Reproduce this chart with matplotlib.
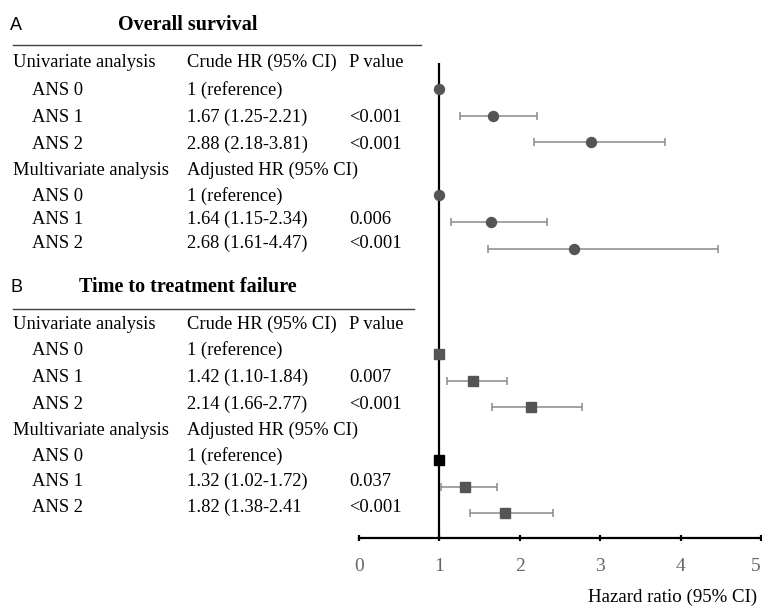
import matplotlib
matplotlib.use("Agg")
import matplotlib.pyplot as plt
import numpy as np

# ---------------- data ----------------
groups = ["ANS 0", "ANS 1", "ANS 2"]

os_uni_hr = [1.00, 1.67, 2.88]
os_uni_lo = [np.nan, 1.25, 2.18]
os_uni_hi = [np.nan, 2.21, 3.81]
os_uni_txt = ["1 (reference)", "1.67 (1.25-2.21)", "2.88 (2.18-3.81)"]
os_uni_p = ["", "<0.001", "<0.001"]

os_multi_hr = [1.00, 1.64, 2.68]
os_multi_lo = [np.nan, 1.15, 1.61]
os_multi_hi = [np.nan, 2.34, 4.47]
os_multi_txt = ["1 (reference)", "1.64 (1.15-2.34)", "2.68 (1.61-4.47)"]
os_multi_p = ["", "0.006", "<0.001"]

ttf_uni_hr = [1.00, 1.42, 2.14]
ttf_uni_lo = [np.nan, 1.10, 1.66]
ttf_uni_hi = [np.nan, 1.84, 2.77]
ttf_uni_txt = ["1 (reference)", "1.42 (1.10-1.84)", "2.14 (1.66-2.77)"]
ttf_uni_p = ["", "0.007", "<0.001"]

ttf_multi_hr = [1.00, 1.32, 1.82]
ttf_multi_lo = [np.nan, 1.02, 1.38]
ttf_multi_hi = [np.nan, 1.72, 2.41]
ttf_multi_txt = ["1 (reference)", "1.32 (1.02-1.72)", "1.82 (1.38-2.41"]
ttf_multi_p = ["", "0.037", "<0.001"]

x_ticks = [0, 1, 2, 3, 4, 5]

# ---------------- layout (pixels) ----------------
W, H = 762, 607
SERIF = "Liberation Serif"
SANS = "Liberation Sans"
FS = 13.3
TITLE_FS = 14.5
BASE_OFF = 6  # pixels from visual row centre down to text baseline

fig = plt.figure(figsize=(W / 100, H / 100), dpi=100)

def fx(px):
    return px / W

def fy(py):
    return 1 - py / H

ax_left, ax_right, ax_bottom_px = 359, 761, 538
ax = fig.add_axes([fx(ax_left), fy(ax_bottom_px), fx(ax_right - ax_left), 1 - fy(ax_bottom_px)])
ax.set_xlim(0, 5)
ax.set_ylim(ax_bottom_px, 0)
for s in ["top", "right", "left"]:
    ax.spines[s].set_visible(False)
ax.spines["bottom"].set_linewidth(1.6)
ax.set_yticks([])
ax.set_xticks(x_ticks)
ax.set_xticklabels([str(t) for t in x_ticks], fontfamily=SERIF, fontsize=14, color="#666666")
ax.get_xticklabels()[-1].set_horizontalalignment("right")
ax.tick_params(axis="x", direction="inout", length=5, width=1.6, pad=12)
ax.patch.set_alpha(0)

# reference line at HR = 1
ax.plot([1, 1], [63, ax_bottom_px], color="black", lw=1.6, zorder=2, solid_capstyle="butt")

panels = [
    dict(letter="A", title="Overall survival", title_y=24, rule_y=45, rule_x1=421,
         uni=(os_uni_hr, os_uni_lo, os_uni_hi, os_uni_txt, os_uni_p),
         multi=(os_multi_hr, os_multi_lo, os_multi_hi, os_multi_txt, os_multi_p),
         text_y=[61, 89, 116, 143, 169, 195, 218, 242],
         mark_y=[89, 116, 142, 195, 222, 249],
         marker="o", ms=7.2, ref_black=False),
    dict(letter="B", title="Time to treatment failure", title_y=286, rule_y=309, rule_x1=414,
         uni=(ttf_uni_hr, ttf_uni_lo, ttf_uni_hi, ttf_uni_txt, ttf_uni_p),
         multi=(ttf_multi_hr, ttf_multi_lo, ttf_multi_hi, ttf_multi_txt, ttf_multi_p),
         text_y=[323, 349, 376, 403, 429, 455, 480, 506],
         mark_y=[354, 381, 407, 460, 487, 513],
         marker="s", ms=7.8, ref_black=True),
]


def row_text(x, y, s, **kw):
    fig.text(fx(x), fy(y + BASE_OFF), s, fontfamily=SERIF, fontsize=FS, va="baseline", **kw)


for p in panels:
    fig.text(fx(10), fy(p["title_y"] + 6.5), p["letter"], fontfamily=SANS, fontsize=13,
             ha="left", va="baseline")
    fig.text(fx(188), fy(p["title_y"] + 6.5), p["title"], fontfamily=SERIF, fontsize=TITLE_FS,
             fontweight="bold", ha="center", va="baseline")
    fig.add_artist(plt.Line2D([fx(13), fx(p["rule_x1"])], [fy(p["rule_y"])] * 2,
                              color="#404040", lw=1.0))
    ty = p["text_y"]
    # headers
    row_text(13, ty[0], "Univariate analysis")
    row_text(187, ty[0], "Crude HR (95% CI)")
    row_text(349, ty[0], "P value")
    row_text(13, ty[4], "Multivariate analysis")
    row_text(187, ty[4], "Adjusted HR (95% CI)")
    rows_y = [ty[1], ty[2], ty[3], ty[5], ty[6], ty[7]]
    blocks = [p["uni"], p["multi"]]
    k = 0
    for bi, (hr, lo, hi, txt, pv) in enumerate(blocks):
        for i, g in enumerate(groups):
            yy = rows_y[k]
            my = p["mark_y"][k]
            row_text(32, yy, g)
            row_text(187, yy, txt[i])
            if pv[i]:
                row_text(349, yy, pv[i])
            if not np.isnan(lo[i]):
                ax.errorbar([hr[i]], [my], xerr=[[hr[i] - lo[i]], [hi[i] - hr[i]]],
                            fmt="none", ecolor="#8a8a8a", elinewidth=1.1, capsize=3,
                            capthick=1.1, zorder=3)
            col = "black" if (p["ref_black"] and bi == 1 and i == 0) else "#555555"
            ax.plot([hr[i]], [my], marker=p["marker"], ms=p["ms"], color=col,
                    markeredgecolor=col, linestyle="none", zorder=4, clip_on=False)
            k += 1

fig.text(fx(757), fy(602), "Hazard ratio (95% CI)", fontfamily=SERIF, fontsize=13.6,
         ha="right", va="baseline")

fig.savefig("out.png", dpi=100)
